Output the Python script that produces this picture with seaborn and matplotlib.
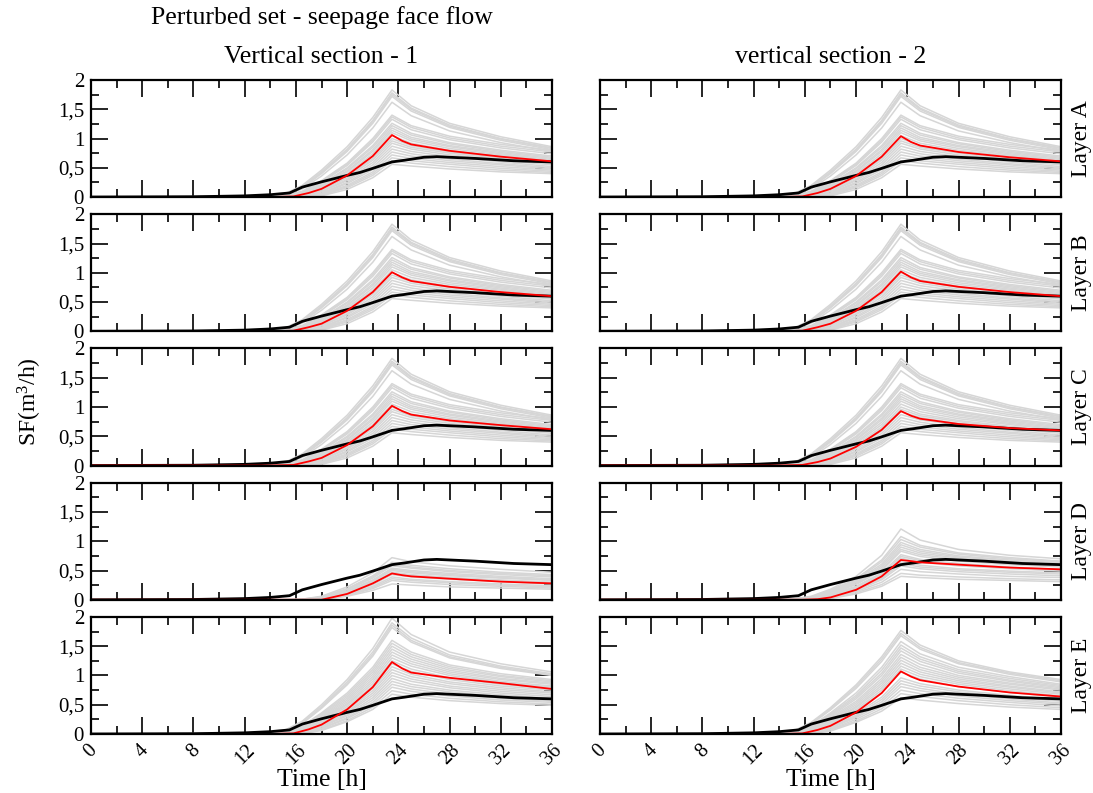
import numpy as np
import pandas as pd
import seaborn as sns
import matplotlib.pyplot as plt
from matplotlib.ticker import MultipleLocator, FuncFormatter

# time grids [h]
t_ens = [0, 13, 15, 16.5, 18, 20, 22, 23.5, 25, 28, 32, 36]
t_red = [0, 14, 15.8, 17, 18, 20, 22, 23.5, 24.3, 25, 28, 32, 36]
t_obs = [0, 8, 12, 14, 15.5, 16, 16.5, 18, 20, 21, 22, 23.5, 24.5, 26, 27, 30, 33, 36]

# observed seepage face flow (black), same for every panel
obs = [0, .005, .02, .04, .07, .12, .17, .26, .37, .42, .49, .60, .63, .68, .69, .66, .62, .60]

# perturbed ensemble members (grey)
ens_abc = [
    [0, .01, .04, .20, .46, .86, 1.36, 1.83, 1.56, 1.26, 1.03, .86],
    [0, .01, .03, .18, .43, .82, 1.31, 1.78, 1.52, 1.23, 1.00, .84],
    [0, .01, .03, .17, .42, .80, 1.29, 1.75, 1.50, 1.21, .99, .83],
    [0, .01, .03, .16, .40, .78, 1.26, 1.72, 1.47, 1.19, .97, .81],
    [0, 0, .02, .14, .36, .72, 1.18, 1.62, 1.39, 1.13, .93, .78],
    [0, 0, .02, .10, .28, .58, 1.00, 1.40, 1.22, 1.04, .90, .80],
    [0, 0, .01, .09, .27, .56, .97, 1.37, 1.19, 1.01, .87, .77],
    [0, 0, .01, .08, .25, .54, .94, 1.33, 1.15, .98, .84, .74],
    [0, 0, .01, .07, .22, .50, .88, 1.26, 1.09, .93, .80, .70],
    [0, 0, .01, .06, .21, .48, .85, 1.22, 1.06, .91, .78, .68],
    [0, 0, .01, .05, .19, .45, .81, 1.18, 1.02, .88, .76, .66],
    [0, 0, .01, .05, .18, .43, .78, 1.14, .99, .86, .74, .64],
    [0, 0, 0, .04, .16, .40, .74, 1.10, .96, .83, .72, .62],
    [0, 0, 0, .04, .15, .38, .70, 1.05, .92, .80, .70, .60],
    [0, 0, 0, .03, .13, .35, .66, 1.00, .88, .77, .67, .58],
    [0, 0, 0, .03, .12, .33, .63, .96, .85, .75, .65, .57],
    [0, 0, 0, .02, .10, .30, .59, .92, .82, .72, .63, .55],
    [0, 0, 0, .02, .09, .28, .55, .87, .78, .69, .60, .52],
    [0, 0, 0, .01, .07, .25, .51, .82, .74, .65, .57, .50],
    [0, 0, 0, .01, .06, .23, .47, .77, .70, .62, .55, .48],
    [0, 0, 0, 0, .05, .20, .43, .72, .66, .59, .52, .46],
    [0, 0, 0, 0, .04, .18, .40, .67, .62, .56, .49, .44],
    [0, 0, 0, 0, .03, .16, .37, .62, .58, .52, .46, .42],
    [0, 0, 0, 0, .02, .13, .33, .56, .53, .48, .43, .40],
]
ens_d1 = [
    [0, 0, 0, .01, .06, .22, .46, .72, .65, .58, .52, .47],
    [0, 0, 0, .01, .05, .19, .41, .64, .59, .53, .47, .43],
    [0, 0, 0, .01, .04, .18, .39, .61, .56, .50, .45, .41],
    [0, 0, 0, 0, .04, .17, .37, .58, .54, .48, .43, .39],
    [0, 0, 0, 0, .03, .15, .34, .54, .50, .45, .40, .36],
    [0, 0, 0, 0, .03, .14, .32, .52, .48, .43, .38, .34],
    [0, 0, 0, 0, .03, .13, .31, .50, .46, .41, .37, .33],
    [0, 0, 0, 0, .02, .12, .29, .47, .43, .38, .34, .30],
    [0, 0, 0, 0, .02, .11, .27, .45, .41, .37, .32, .29],
    [0, 0, 0, 0, .02, .10, .26, .43, .39, .35, .31, .27],
    [0, 0, 0, 0, .01, .09, .23, .39, .35, .31, .27, .24],
    [0, 0, 0, 0, .01, .08, .21, .36, .33, .29, .25, .22],
    [0, 0, 0, 0, .01, .07, .19, .33, .30, .26, .23, .20],
    [0, 0, 0, 0, 0, .06, .16, .27, .25, .22, .20, .18],
]
ens_d2 = [
    [0, 0, .01, .06, .18, .40, .76, 1.21, 1.02, .86, .76, .70],
    [0, 0, .01, .05, .16, .36, .68, 1.08, .93, .80, .72, .66],
    [0, 0, .01, .04, .15, .34, .65, 1.03, .90, .78, .70, .65],
    [0, 0, .01, .04, .14, .32, .61, .98, .86, .75, .68, .63],
    [0, 0, 0, .03, .13, .30, .58, .94, .83, .73, .66, .61],
    [0, 0, 0, .03, .12, .29, .55, .90, .80, .71, .64, .60],
    [0, 0, 0, .02, .11, .27, .52, .86, .77, .69, .62, .58],
    [0, 0, 0, .02, .10, .26, .50, .83, .74, .66, .60, .56],
    [0, 0, 0, .02, .09, .23, .46, .77, .69, .62, .56, .52],
    [0, 0, 0, .01, .08, .22, .44, .74, .67, .60, .55, .51],
    [0, 0, 0, .01, .08, .21, .42, .71, .64, .58, .53, .49],
    [0, 0, 0, .01, .07, .19, .38, .65, .59, .53, .49, .46],
    [0, 0, 0, .01, .06, .18, .36, .62, .56, .51, .47, .44],
    [0, 0, 0, 0, .05, .16, .34, .58, .53, .48, .44, .41],
    [0, 0, 0, 0, .04, .14, .30, .52, .48, .44, .40, .38],
    [0, 0, 0, 0, .03, .12, .26, .45, .42, .39, .36, .34],
    [0, 0, 0, 0, .02, .10, .23, .40, .38, .35, .33, .31],
]
ens_e1 = [
    [0, .01, .05, .22, .50, .93, 1.46, 1.98, 1.70, 1.40, 1.20, 1.06],
    [0, .01, .04, .20, .47, .89, 1.40, 1.90, 1.64, 1.35, 1.16, 1.03],
    [0, .01, .04, .19, .45, .86, 1.36, 1.86, 1.60, 1.32, 1.14, 1.01],
    [0, .01, .03, .18, .44, .84, 1.33, 1.82, 1.57, 1.30, 1.12, 1.00],
    [0, 0, .02, .14, .36, .70, 1.14, 1.60, 1.40, 1.18, 1.03, .93],
    [0, 0, .02, .13, .34, .67, 1.10, 1.55, 1.36, 1.15, 1.00, .91],
    [0, 0, .02, .12, .32, .64, 1.06, 1.50, 1.32, 1.12, .98, .89],
    [0, 0, .01, .11, .30, .61, 1.02, 1.45, 1.28, 1.09, .95, .87],
    [0, 0, .01, .10, .28, .58, .98, 1.40, 1.24, 1.06, .93, .85],
    [0, 0, .01, .09, .26, .55, .94, 1.35, 1.20, 1.03, .90, .82],
    [0, 0, .01, .08, .25, .52, .90, 1.30, 1.16, 1.00, .88, .80],
    [0, 0, .01, .07, .23, .50, .86, 1.25, 1.11, .96, .85, .77],
    [0, 0, .01, .07, .22, .47, .82, 1.20, 1.07, .93, .82, .75],
    [0, 0, 0, .06, .20, .44, .78, 1.15, 1.02, .89, .79, .72],
    [0, 0, 0, .05, .18, .41, .74, 1.10, .98, .86, .76, .70],
    [0, 0, 0, .04, .16, .38, .70, 1.05, .94, .82, .73, .67],
    [0, 0, 0, .04, .15, .36, .66, 1.00, .90, .79, .70, .64],
    [0, 0, 0, .03, .13, .33, .62, .95, .85, .75, .67, .61],
    [0, 0, 0, .03, .12, .31, .58, .90, .81, .72, .64, .59],
    [0, 0, 0, .02, .10, .28, .54, .85, .77, .68, .61, .56],
    [0, 0, 0, .02, .09, .26, .50, .80, .73, .65, .58, .54],
    [0, 0, 0, .01, .07, .23, .46, .74, .68, .61, .55, .51],
    [0, 0, 0, .01, .06, .21, .42, .68, .63, .57, .52, .49],
]
ens_e2 = [
    [0, .01, .04, .20, .45, .84, 1.32, 1.77, 1.52, 1.25, 1.06, .93],
    [0, .01, .03, .18, .43, .81, 1.28, 1.72, 1.48, 1.22, 1.04, .91],
    [0, .01, .03, .17, .41, .78, 1.24, 1.68, 1.45, 1.20, 1.02, .89],
    [0, 0, .02, .14, .36, .70, 1.14, 1.58, 1.37, 1.14, .98, .85],
    [0, 0, .02, .13, .34, .66, 1.09, 1.52, 1.32, 1.10, .95, .83],
    [0, 0, .02, .12, .32, .63, 1.04, 1.47, 1.28, 1.07, .92, .81],
    [0, 0, .01, .11, .30, .60, 1.00, 1.42, 1.24, 1.04, .90, .79],
    [0, 0, .01, .10, .28, .56, .95, 1.36, 1.19, 1.00, .87, .77],
    [0, 0, .01, .09, .26, .53, .91, 1.31, 1.14, .97, .85, .75],
    [0, 0, .01, .08, .24, .50, .87, 1.26, 1.10, .94, .82, .72],
    [0, 0, .01, .07, .22, .47, .83, 1.21, 1.06, .91, .80, .70],
    [0, 0, .01, .06, .20, .45, .79, 1.16, 1.02, .88, .77, .68],
    [0, 0, 0, .05, .18, .42, .75, 1.11, .98, .85, .74, .65],
    [0, 0, 0, .05, .17, .40, .71, 1.06, .94, .81, .71, .63],
    [0, 0, 0, .04, .14, .35, .63, .96, .86, .75, .66, .58],
    [0, 0, 0, .03, .12, .32, .59, .91, .82, .72, .63, .56],
    [0, 0, 0, .03, .11, .30, .55, .86, .78, .68, .60, .53],
    [0, 0, 0, .02, .10, .28, .51, .81, .74, .65, .57, .51],
    [0, 0, 0, .02, .08, .25, .47, .75, .69, .61, .54, .48],
    [0, 0, 0, .01, .07, .22, .43, .69, .64, .57, .50, .45],
    [0, 0, 0, .01, .05, .20, .39, .62, .58, .52, .46, .42],
]

# reference run (red) per layer / section
red_a1 = [0, 0, .01, .07, .14, .37, .70, 1.06, .96, .90, .79, .69, .61]
red_a2 = [0, 0, .01, .07, .14, .36, .69, 1.04, .94, .88, .77, .68, .61]
red_b1 = [0, 0, .01, .07, .13, .35, .67, 1.01, .92, .86, .76, .67, .60]
red_b2 = [0, 0, .01, .07, .13, .35, .67, 1.02, .92, .86, .76, .67, .60]
red_c1 = [0, 0, .01, .07, .13, .35, .67, 1.02, .93, .87, .77, .69, .62]
red_c2 = [0, 0, .01, .06, .12, .32, .61, .93, .85, .80, .71, .64, .60]
red_d1 = [0, 0, 0, 0, 0, .10, .28, .45, .42, .40, .36, .31, .28]
red_d2 = [0, 0, 0, .01, .04, .17, .40, .68, .66, .64, .60, .55, .52]
red_e1 = [0, 0, .01, .08, .16, .42, .80, 1.23, 1.12, 1.05, .96, .87, .77]
red_e2 = [0, 0, .01, .07, .14, .37, .70, 1.07, .98, .92, .81, .71, .64]

layers = ["Layer A", "Layer B", "Layer C", "Layer D", "Layer E"]
sections = ["Vertical section - 1", "vertical section - 2"]
x_ticks = list(range(0, 37, 4))

panel_ens = [[ens_abc, ens_abc], [ens_abc, ens_abc], [ens_abc, ens_abc],
             [ens_d1, ens_d2], [ens_e1, ens_e2]]
panel_red = [[red_a1, red_a2], [red_b1, red_b2], [red_c1, red_c2],
             [red_d1, red_d2], [red_e1, red_e2]]

sns.set_theme(style="ticks")
plt.rcParams['font.family'] = ['Liberation Serif', 'DejaVu Serif']
plt.rcParams['mathtext.fontset'] = 'custom'
plt.rcParams['mathtext.rm'] = 'Liberation Serif'
plt.rcParams['mathtext.it'] = 'Liberation Serif:italic'
for key in ['text.color', 'axes.labelcolor', 'xtick.color', 'ytick.color']:
    plt.rcParams[key] = 'black'

fig, axes = plt.subplots(5, 2, figsize=(10.93, 7.93), dpi=100, sharex=True, sharey=True)
fig.subplots_adjust(left=0.0833, right=0.9707, top=0.8991, bottom=0.0744,
                    wspace=0.104, hspace=0.147)

df_obs = pd.DataFrame({'t': t_obs, 'v': obs})

for r in range(5):
    for c in range(2):
        ax = axes[r, c]
        rows = []
        for m, member in enumerate(panel_ens[r][c]):
            for t, v in zip(t_ens, member):
                rows.append((m, t, v))
        df_ens = pd.DataFrame(rows, columns=['member', 't', 'v'])
        sns.lineplot(data=df_ens, x='t', y='v', units='member', estimator=None,
                     color='#d6d6d6', lw=1.1, ax=ax, legend=False)
        sns.lineplot(data=df_obs, x='t', y='v', color='black', lw=2.0, ax=ax)
        df_red = pd.DataFrame({'t': t_red, 'v': panel_red[r][c]})
        sns.lineplot(data=df_red, x='t', y='v', color='red', lw=1.3, ax=ax)

        ax.set_xlim(0, 36)
        ax.set_ylim(0, 2)
        ax.set_xlabel('')
        ax.set_ylabel('')
        ax.xaxis.set_major_locator(MultipleLocator(4))
        ax.xaxis.set_minor_locator(MultipleLocator(2))
        ax.yaxis.set_major_locator(MultipleLocator(0.5))
        ax.yaxis.set_minor_locator(MultipleLocator(0.25))
        ax.yaxis.set_major_formatter(FuncFormatter(lambda v, p: f"{v:g}".replace('.', ',')))
        ax.tick_params(which='both', direction='in', top=True, right=True,
                       width=1.2, color='black', labelcolor='black')
        ax.tick_params(which='major', length=12, labelsize=15, pad=5)
        ax.tick_params(which='minor', length=6)
        for s in ax.spines.values():
            s.set_linewidth(1.6)
            s.set_color('black')
        if c == 1:
            ax.text(1.044, 0.5, layers[r], transform=ax.transAxes, rotation=90,
                    ha='center', va='center', fontsize=17, color='black')
        if r == 0:
            ax.set_title(sections[c], fontsize=18.5, pad=12, color='black')
        if r == 4:
            ax.set_xticks(x_ticks)
            ax.set_xticklabels([str(x) for x in x_ticks], rotation=45,
                               ha='center', fontsize=14.5)
            ax.set_xlabel('Time [h]', fontsize=18.5, labelpad=0, color='black')

fig.text(322 / 1093, 1 - 18 / 793, 'Perturbed set - seepage face flow',
         ha='center', va='center', fontsize=18.5, color='black')
fig.text(30 / 1093, 1 - 402 / 793, 'SF(m$^3$/h)', rotation=90,
         ha='center', va='center', fontsize=17, color='black')

fig.savefig('out.png', dpi=100)
